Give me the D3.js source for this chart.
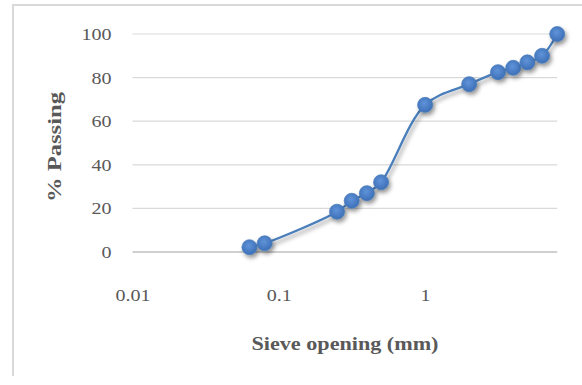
<!DOCTYPE html>
<html>
<head>
<meta charset="utf-8">
<script src="https://cdn.jsdelivr.net/npm/d3@7"></script>
<style>
  html, body { margin: 0; padding: 0; background: #fff; }
  svg { display: block; }
</style>
</head>
<body>
<svg id="chart" width="582" height="385"></svg>
<script>
// Grain size distribution: sieve opening (mm) vs cumulative % passing
const sieveSizes = [0.063, 0.08, 0.25, 0.315, 0.4, 0.5, 1, 2, 3.15, 4, 5, 6.3, 8];
const percentPassing = [2.2, 4, 18.5, 23.5, 27, 32, 67.5, 77, 82.5, 84.5, 87, 90, 100];
const xTicks = [0.01, 0.1, 1];
const yTicks = [0, 20, 40, 60, 80, 100];
const xDomain = [0.01, 8];
const yDomain = [0, 100];

const svg = d3.select("#chart");

// chart frame (left and top edges)
svg.append("line").attr("x1", 13).attr("x2", 13).attr("y1", 5).attr("y2", 376)
  .attr("stroke", "#d9d9d9").attr("stroke-width", 2);
svg.append("line").attr("x1", 12).attr("x2", 582).attr("y1", 5).attr("y2", 5)
  .attr("stroke", "#d9d9d9").attr("stroke-width", 2);

const decade = 146.3;
const x0 = 132.5;
const x = d3.scaleLog().domain(xDomain)
  .range([x0, x0 + decade * Math.log10(xDomain[1] / xDomain[0])]);
const y = d3.scaleLinear().domain(yDomain).range([252, 34]);

const defs = svg.append("defs");
const grad = defs.append("radialGradient").attr("id", "markerFill")
  .attr("cx", "45%").attr("cy", "40%").attr("r", "60%");
grad.append("stop").attr("offset", "0%").attr("stop-color", "#5f93d9");
grad.append("stop").attr("offset", "100%").attr("stop-color", "#3d6fb6");
const shadow = defs.append("filter").attr("id", "shadow")
  .attr("x", "-50%").attr("y", "-50%").attr("width", "200%").attr("height", "200%");
shadow.append("feDropShadow").attr("dx", 2).attr("dy", 3).attr("stdDeviation", 2.2)
  .attr("flood-color", "#000").attr("flood-opacity", 0.4);

// horizontal gridlines
svg.append("g").selectAll("line").data(yTicks).join("line")
  .attr("x1", x.range()[0]).attr("x2", x.range()[1])
  .attr("y1", d => y(d)).attr("y2", d => y(d))
  .attr("stroke", d => d === 0 ? "#bfbfbf" : "#d9d9d9")
  .attr("stroke-width", d => d === 0 ? 1.5 : 1.2);

// axes
const yAxis = svg.append("g").attr("transform", `translate(${x0},0)`)
  .call(d3.axisLeft(y).tickValues(yTicks).tickSize(0).tickPadding(21).tickFormat(d3.format("d")));
yAxis.select(".domain").remove();

const xAxis = svg.append("g").attr("transform", `translate(0,${y(0)})`)
  .call(d3.axisBottom(x).tickValues(xTicks).tickSize(0).tickPadding(36.5).tickFormat(d => String(d)));
xAxis.select(".domain").remove();

svg.selectAll(".tick text")
  .attr("font-family", "'Liberation Serif', serif")
  .attr("font-size", 17)
  .attr("fill", "#595959")
  .each(function () {
    const w = this.getComputedTextLength();
    d3.select(this).attr("textLength", w * 1.18).attr("lengthAdjust", "spacingAndGlyphs");
  });

// axis titles
svg.append("text")
  .attr("x", 345).attr("y", 350)
  .attr("text-anchor", "middle")
  .attr("font-family", "'Liberation Serif', serif")
  .attr("font-weight", "bold")
  .attr("font-size", 19)
  .attr("fill", "#595959")
  .attr("textLength", 187).attr("lengthAdjust", "spacingAndGlyphs")
  .text("Sieve opening (mm)");

svg.append("text")
  .attr("transform", "translate(61,147) rotate(-90)")
  .attr("text-anchor", "middle")
  .attr("font-family", "'Liberation Serif', serif")
  .attr("font-weight", "bold")
  .attr("font-size", 19)
  .attr("fill", "#595959")
  .attr("textLength", 110).attr("lengthAdjust", "spacingAndGlyphs")
  .text("% Passing");

// smoothed gradation curve
const pts = sieveSizes.map((s, i) => [s, percentPassing[i]]);
const line = d3.line().x(d => x(d[0])).y(d => y(d[1])).curve(d3.curveCatmullRom.alpha(0.5));
svg.append("path")
  .datum(pts)
  .attr("d", line)
  .attr("fill", "none")
  .attr("stroke", "#4a7ebb")
  .attr("stroke-width", 2.25)
  .attr("filter", "url(#shadow)");

// markers
svg.append("g").selectAll("circle").data(pts).join("circle")
  .attr("cx", d => x(d[0]))
  .attr("cy", d => y(d[1]))
  .attr("r", 7.5)
  .attr("fill", "url(#markerFill)")
  .attr("stroke", "#4a7ebb")
  .attr("stroke-width", 0.75)
  .attr("filter", "url(#shadow)");
</script>
</body>
</html>
